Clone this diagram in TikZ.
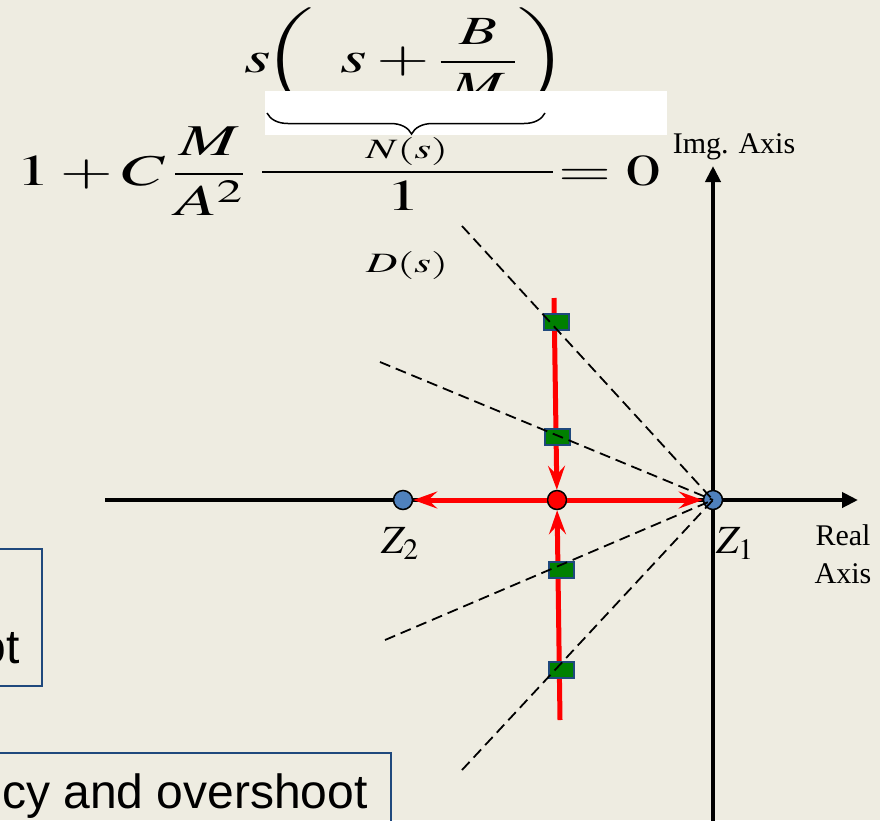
\documentclass[tikz,border=0pt]{standalone}
\usepackage{mathptmx}
\usepackage[no-math]{fontspec}
\setmainfont{Liberation Serif}
\setsansfont{Liberation Sans}
\usepackage{graphicx}
\usetikzlibrary{arrows.meta,decorations.pathreplacing}
\definecolor{slidebg}{HTML}{EEECE1}
\definecolor{boxblue}{HTML}{1F497D}
\definecolor{zeroblue}{HTML}{4F81BD}
\definecolor{gaingreen}{RGB}{0,128,0}

\begin{document}
\begin{tikzpicture}[x=1pt, y=-1pt,
  eq/.style={inner sep=0pt, font=\fontsize{44}{52}\selectfont},
  eqsub/.style={inner sep=0pt, font=\fontsize{28}{34}\selectfont},
  lbl/.style={inner sep=0pt, font=\fontsize{30}{38}\selectfont},
  bigtxt/.style={inner sep=0pt, font=\sffamily\fontsize{48}{56}\selectfont},
  axisline/.style={line width=4pt, -{Triangle[length=16pt, width=15pt]}},
  locus/.style={draw=red, line width=5pt, -{Stealth[length=24pt, width=17pt, inset=9pt]}},
  guide/.style={line width=1.8pt, dash pattern=on 11pt off 6pt},
  zero/.style={circle, draw=black, line width=1.5pt, fill=zeroblue, minimum size=19pt, inner sep=0pt},
  brk/.style={zero, fill=red},
  gain/.style={rectangle, draw=boxblue, line width=2pt, fill=gaingreen, minimum width=25pt, minimum height=16pt, inner sep=0pt},
  note/.style={draw=boxblue, line width=1.5pt}]
\def\eqstretch#1{\scalebox{1.55}[1]{#1}}
\useasboundingbox (0,0) rectangle (880,820);
\clip (0,0) rectangle (880,820);
\fill[slidebg] (0,0) rectangle (880,820);
% characteristic equation
\node[eq, anchor=base] (numer) at (406,72) {\eqstretch{$s\mkern-4mu\left(\vrule height 54pt depth 32pt width 0pt\mkern7mu s+\mbox{\fontsize{40}{48}\selectfont$\displaystyle\frac{B}{\mkern3mu M\mkern3mu}$}\right)$}};
\fill[white] (265,91) rectangle (667,135);
\draw[line width=1.5pt, decorate, decoration={brace, mirror, amplitude=21pt, aspect=0.52}] (267,113) -- (545,113);
\node[eq, anchor=base west] (lhs) at (16,185) {\eqstretch{$1+C\,\displaystyle\frac{M}{A^2}$}};
\coordinate (barl) at (262,172); \coordinate (barr) at (553,172);
\draw[line width=2.5pt] (barl) -- (barr);
\node[eqsub, anchor=base] (nlbl) at (407,158) {\eqstretch{$N(s)$}};
\node[eq, anchor=base] (denom) at (404,210) {\eqstretch{$1$}};
\node[eqsub, anchor=base] (dlbl) at (407,272) {\eqstretch{$D(s)$}};
\node[eq, anchor=base west] (rhs) at (558,185) {\eqstretch{$=0$}};
% s-plane axes
\coordinate (xl) at (105,500); \coordinate (xr) at (858,500);
\coordinate (yb) at (713,830); \coordinate (yt) at (713,166);
\draw[axisline] (xl) -- (xr);
\draw[axisline] (yb) -- (yt);
\node[lbl, anchor=base] (imgaxis) at (734,153) {Img. Axis};
\node[lbl, anchor=north, align=center] (realaxis) at (843,524) {Real\\Axis};
% zeros and breakaway point
\node[zero] (z1) at (713,500) {};
\node[zero] (z2) at (403,500) {};
\node[brk] (bp) at (557,500) {};
\node[lbl, font=\fontsize{40}{48}\selectfont, anchor=base west] (z1lbl) at (716,553) {$Z_1$};
\node[lbl, font=\fontsize{40}{48}\selectfont, anchor=base west] (z2lbl) at (381,553) {$Z_2$};
% root locus branches
\coordinate (ltop) at (554,298); \coordinate (lbot) at (560,720);
\draw[locus] (ltop) -- (bp);
\draw[locus] (lbot) -- (bp);
\draw[locus] (bp) -- (z2);
\draw[locus] (bp) -- (z1);
\foreach \n/\x/\y in {1/556/322, 2/557/437, 3/561/570, 4/561/670}
  \node[gain] (g\n) at (\x,\y) {};
\foreach \n/\x/\y in {1/462/226, 2/380/362, 3/385/640, 4/462/770} {
  \coordinate (d\n) at (\x,\y);
  \draw[guide] (d\n) -- (z1.center);
}
% cut-off note boxes
\draw[note] (-10,549) rectangle (42,686);
\node[bigtxt, anchor=base east] (rootnote) at (20,663) {ot};
\draw[note] (-10,753) rectangle (391,840);
\node[bigtxt, anchor=base east] (overshootnote) at (368,808) {cy and overshoot};
\end{tikzpicture}
\end{document}
